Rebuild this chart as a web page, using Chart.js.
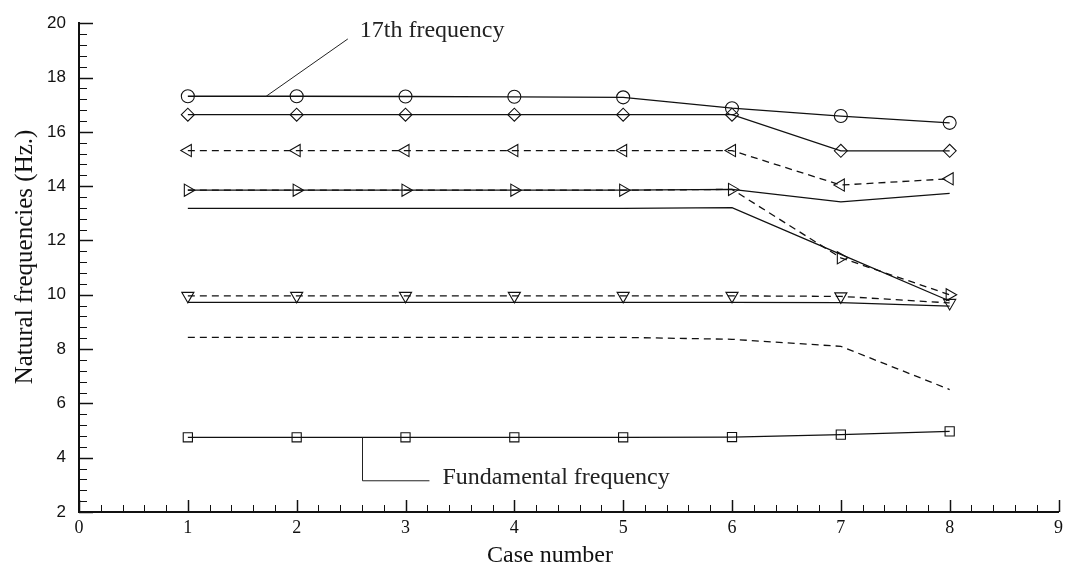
<!DOCTYPE html>
<html lang="en">

<head>
    <meta http-equiv="Content-Type" content="text/html;charset=UTF-8">
    <title>Natural frequencies by case</title>
    <script src="https://cdn.jsdelivr.net/npm/chart.js@4.4.0/dist/chart.umd.min.js"></script>
    <style>
        body { margin: 0; background: #fff; }
        canvas { display: block; }
    </style>
</head>

<body>
    <canvas id="freqchart" width="1068" height="571"></canvas>

    <script>
        // values, one list per mode
        var cases = [1, 2, 3, 4, 5, 6, 7, 8];
        var modeCircle = [17.31, 17.31, 17.30, 17.29, 17.27, 16.87, 16.58, 16.33];
        var modeDiamond = [16.63, 16.63, 16.63, 16.63, 16.63, 16.63, 15.30, 15.30];
        var modeLeftTri = [15.31, 15.31, 15.31, 15.31, 15.31, 15.31, 14.04, 14.27];
        var modeRightTri = [13.85, 13.85, 13.85, 13.85, 13.85, 13.88, 11.36, 10.00];
        var modeSolidA = [13.85, 13.85, 13.85, 13.85, 13.85, 13.88, 13.42, 13.73];
        var modeSolidB = [13.18, 13.18, 13.18, 13.18, 13.18, 13.21, 11.49, 9.77];
        var modeDownTri = [9.96, 9.96, 9.96, 9.96, 9.96, 9.96, 9.94, 9.70];
        var modeSolidC = [9.72, 9.72, 9.72, 9.72, 9.72, 9.72, 9.71, 9.58];
        var modeDashed = [8.43, 8.43, 8.43, 8.43, 8.43, 8.36, 8.10, 6.51];
        var modeFundamental = [4.75, 4.75, 4.75, 4.75, 4.75, 4.76, 4.85, 4.97];

        var xTickLabels = [0, 1, 2, 3, 4, 5, 6, 7, 8, 9];
        var yTickLabels = [2, 4, 6, 8, 10, 12, 14, 16, 18, 20];

        function series(values, style, rotation, dashed) {
            return {
                data: cases.map(function (c, i) { return { x: c, y: values[i] }; }),
                borderColor: '#111',
                borderWidth: 1.3,
                borderDash: dashed ? [7, 5] : [],
                backgroundColor: 'rgba(0,0,0,0)',
                pointStyle: style || 'circle',
                pointRotation: rotation || 0,
                pointRadius: style ? (style === 'triangle' ? 7 : 6.5) : 0,
                pointBorderColor: '#111',
                pointBorderWidth: 1.1,
                fill: false,
                tension: 0
            };
        }

        // inward ticks (major + minor), axis titles and the two callouts
        var decorations = {
            id: 'decorations',
            afterDraw: function (chart) {
                var ctx = chart.ctx;
                var xs = chart.scales.x;
                var ys = chart.scales.y;
                var area = chart.chartArea;
                ctx.save();
                ctx.strokeStyle = '#111';

                // x axis ticks, every 0.2
                for (var k = 0; k <= 45; k++) {
                    var px = Math.round(xs.getPixelForValue(k * 0.2)) + 0.5;
                    var major = k % 5 === 0;
                    ctx.lineWidth = major ? 1.5 : 1;
                    ctx.beginPath();
                    ctx.moveTo(px, area.bottom);
                    ctx.lineTo(px, area.bottom - (major ? 12 : 7));
                    ctx.stroke();
                }
                // y axis ticks, every 0.4
                for (var j = 0; j <= 45; j++) {
                    var py = Math.round(ys.getPixelForValue(2 + j * 0.4)) + 0.5;
                    var majorY = j % 5 === 0;
                    ctx.lineWidth = majorY ? 1.5 : 1;
                    ctx.beginPath();
                    ctx.moveTo(area.left, py);
                    ctx.lineTo(area.left + (majorY ? 14 : 8), py);
                    ctx.stroke();
                }

                // axis titles
                ctx.fillStyle = '#111';
                ctx.font = '24px "Liberation Serif"';
                ctx.textAlign = 'center';
                ctx.textBaseline = 'middle';
                ctx.fillText('Case number', 550, 556);

                ctx.save();
                ctx.translate(25, 257);
                ctx.rotate(-Math.PI / 2);
                ctx.font = '25px "Liberation Serif"';
                ctx.fillText('Natural frequencies (Hz.)', 0, 0);
                ctx.restore();

                // callouts
                ctx.lineWidth = 1;
                ctx.strokeStyle = '#222';
                ctx.beginPath();
                ctx.moveTo(xs.getPixelForValue(1.72), ys.getPixelForValue(17.31));
                ctx.lineTo(xs.getPixelForValue(2.47), ys.getPixelForValue(19.42));
                ctx.stroke();

                ctx.beginPath();
                ctx.moveTo(xs.getPixelForValue(2.605), ys.getPixelForValue(4.75));
                ctx.lineTo(xs.getPixelForValue(2.605), ys.getPixelForValue(3.15));
                ctx.lineTo(xs.getPixelForValue(3.22), ys.getPixelForValue(3.15));
                ctx.stroke();

                ctx.font = '24px "Liberation Serif"';
                ctx.textAlign = 'left';
                ctx.textBaseline = 'alphabetic';
                ctx.fillStyle = '#222';
                ctx.fillText('17th frequency', xs.getPixelForValue(2.58), 37);
                ctx.fillText('Fundamental frequency', xs.getPixelForValue(3.34), 484);
                ctx.restore();
            }
        };

        var chart = new Chart(document.getElementById('freqchart').getContext('2d'), {
            type: 'line',
            data: {
                datasets: [
                    series(modeSolidA, null, 0, false),
                    series(modeSolidB, null, 0, false),
                    series(modeSolidC, null, 0, false),
                    series(modeDashed, null, 0, true),
                    series(modeCircle, 'circle', 0, false),
                    series(modeDiamond, 'rectRot', 0, false),
                    series(modeLeftTri, 'triangle', -90, true),
                    series(modeRightTri, 'triangle', 90, true),
                    series(modeDownTri, 'triangle', 180, true),
                    series(modeFundamental, 'rect', 0, false)
                ]
            },
            options: {
                responsive: false,
                animation: false,
                events: [],
                layout: {
                    padding: { left: 0, right: 9, top: 17, bottom: 0 }
                },
                plugins: {
                    legend: { display: false },
                    tooltip: { enabled: false }
                },
                scales: {
                    x: {
                        type: 'linear',
                        min: xTickLabels[0],
                        max: xTickLabels[xTickLabels.length - 1],
                        afterBuildTicks: function (s) {
                            s.ticks = xTickLabels.map(function (v) { return { value: v }; });
                        },
                        afterFit: function (s) { s.height = 59; },
                        grid: { display: false, drawTicks: false },
                        border: { display: true, color: '#111', width: 2 },
                        ticks: {
                            padding: 5,
                            color: '#111',
                            maxRotation: 0,
                            font: { family: 'Liberation Serif', size: 18 }
                        }
                    },
                    y: {
                        type: 'linear',
                        min: yTickLabels[0],
                        max: yTickLabels[yTickLabels.length - 1],
                        afterBuildTicks: function (s) {
                            s.ticks = yTickLabels.map(function (v) { return { value: v }; });
                        },
                        afterFit: function (s) { s.width = 79; },
                        grid: { display: false, drawTicks: false },
                        border: { display: true, color: '#111', width: 2 },
                        ticks: {
                            padding: 13,
                            color: '#111',
                            font: { family: 'Liberation Sans', size: 17 }
                        }
                    }
                }
            },
            plugins: [decorations]
        });
    </script>
</body>

</html>
